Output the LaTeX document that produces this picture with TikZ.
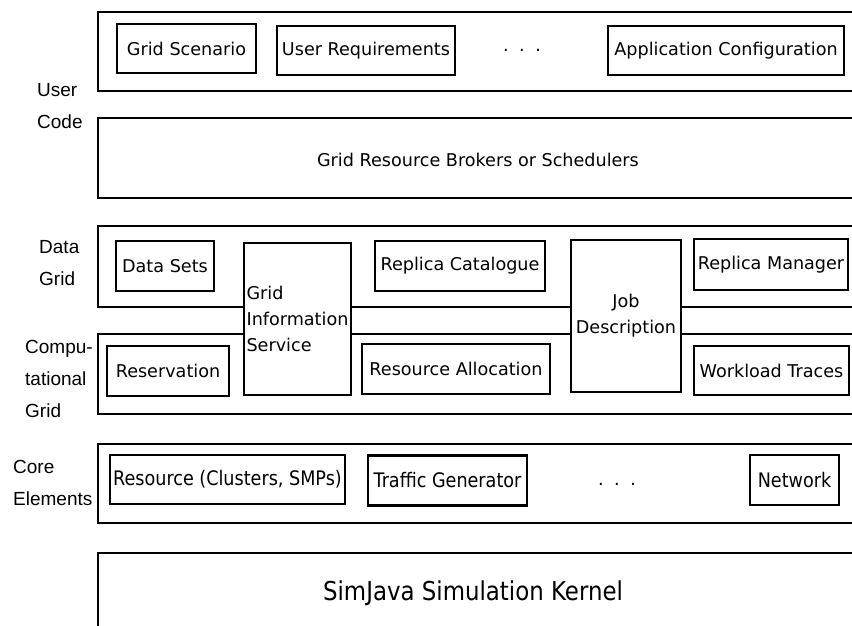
\documentclass[tikz,border=0pt]{standalone}
\usepackage{fontspec}
\setmainfont{DejaVu Sans}
\newfontfamily\labfont{Liberation Sans}
\newfontfamily\condfont{DejaVu Sans}[FakeStretch=0.88]
\begin{document}
\begin{tikzpicture}[x=1pt,y=-1pt,
  frame/.style={draw, line width=2.2pt, anchor=north west, inner sep=0pt},
  ibox/.style={draw, line width=2.2pt, fill=white, inner sep=3pt, font=\fontsize{17.6}{26}\selectfont},
  cbox/.style={draw, line width=2.2pt, fill=white, inner sep=2pt, font=\condfont\fontsize{20}{26}\selectfont},
  lab/.style={anchor=west, inner sep=0pt, align=left, font=\labfont\fontsize{19}{32}\selectfont},
  txt/.style={inner sep=0pt, font=\fontsize{17.6}{26}\selectfont}
]
\useasboundingbox (0,0) rectangle (852,626);
\clip (0,0) rectangle (852,626);
% container frames
\node[frame, minimum width=803pt, minimum height=79pt] (ucode) at (97,11) {};
\node[frame, minimum width=803pt, minimum height=80pt] (brk) at (97,117) {};
\node[frame, minimum width=803pt, minimum height=81pt] (dgrid) at (97,225) {};
\node[frame, minimum width=803pt, minimum height=80pt] (cgrid) at (97,333) {};
\node[frame, minimum width=803pt, minimum height=79pt] (core) at (97,443) {};
\node[frame, minimum width=803pt, minimum height=150pt] (kern) at (97,552) {};
% texts in frames
\node[txt] (brktxt) at (478,160) {Grid Resource Brokers or Schedulers};
\node[inner sep=0pt, font=\condfont\fontsize{26}{30}\selectfont] (kerntxt) at (473,593) {SimJava Simulation Kernel};
% user code row
\node[ibox, minimum width=139pt, minimum height=49pt] (gs) at (186.5,48.5) {Grid Scenario};
\node[ibox, minimum width=178pt, minimum height=49pt] (ur) at (366,50.5) {User Requirements};
\node[txt] (dots1) at (522,50) {.\hspace{0.6em}.\hspace{0.6em}.};
\node[ibox, minimum width=236pt, minimum height=49pt] (ac) at (726,50.5) {Application Configuration};
% data grid
\node[ibox, minimum width=98pt, minimum height=50pt] (ds) at (165,266) {Data Sets};
\node[ibox, minimum width=170pt, minimum height=50pt] (rc) at (460,266) {Replica Catalogue};
\node[ibox, minimum width=154pt, minimum height=51pt] (rm) at (771,264.5) {Replica Manager};
% computational grid
\node[ibox, minimum width=122pt, minimum height=50pt] (res) at (168,371) {Reservation};
\node[ibox, minimum width=188pt, minimum height=50pt] (ra) at (456,369) {Resource Allocation};
\node[ibox, minimum width=155pt, minimum height=49pt] (wt) at (771.5,370.5) {Workload Traces};
% spanning boxes
\node[ibox, minimum width=107pt, minimum height=152pt, align=left, inner sep=1pt] (gis) at (297.5,319) {Grid\\Information\\Service};
\node[ibox, minimum width=110pt, minimum height=152pt, align=center] (jd) at (626,316) {Job\\Description};
% core elements
\node[cbox, minimum width=235pt, minimum height=49pt] (rcs) at (227.5,479.5) {Resource (Clusters, SMPs)};
\node[cbox, minimum width=159pt, minimum height=50pt] (tg) at (447.5,480.5) {Traffic Generator};
\node[txt] (dots2) at (617,484) {.\hspace{0.6em}.\hspace{0.6em}.};
\node[cbox, minimum width=89pt, minimum height=50pt] (nw) at (794.5,480) {Network};
% left labels
\node[lab] (lucode) at (37,106) {User\\Code};
\node[lab] (ldgrid) at (39,263) {Data\\Grid};
\node[lab] (lcgrid) at (25,378.5) {Compu-\\tational\\Grid};
\node[lab] (lcore) at (13,482.5) {Core\\Elements};
\end{tikzpicture}
\end{document}
